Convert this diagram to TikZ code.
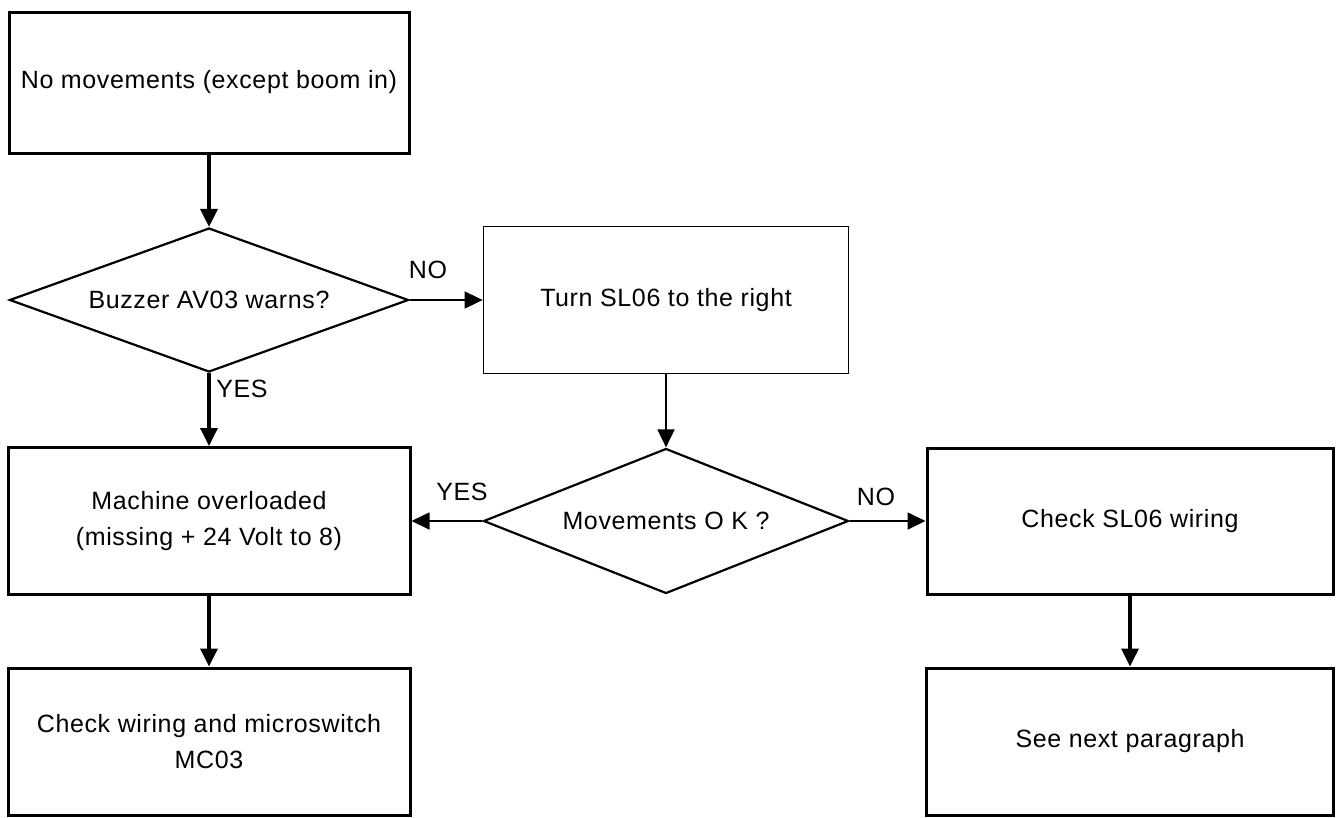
\documentclass[tikz,border=0pt]{standalone}
\usepackage{fontspec}
\setmainfont[LetterSpace=2.5]{Liberation Sans}
\usetikzlibrary{shapes.geometric,arrows.meta}
\begin{document}
\begin{tikzpicture}[x=1pt,y=-1pt,
  every node/.style={font=\fontsize{25}{36}\selectfont, align=center},
  stepbox/.style={draw, line width=3pt, rectangle, inner sep=0pt},
  decision/.style={draw, line width=2.2pt, diamond, inner sep=0pt, aspect=2.5},
  label/.style={inner sep=0pt},
  heavy/.style={line width=3.5pt, -{Triangle[length=18pt,width=17pt]}},
  light/.style={line width=1.8pt, -{Triangle[length=18pt,width=17pt]}}
]
\useasboundingbox (0,0) rectangle (1340,817);

% boxes and decisions
\node[stepbox, minimum width=400pt, minimum height=141pt] (start) at (209,82.5) {No movements (except boom in)};
\node[decision, minimum width=399pt, minimum height=144pt] (buzz) at (209,300) {Buzzer AV03 warns?};
\node[stepbox, line width=1.8pt, minimum width=365pt, minimum height=147pt] (turn) at (666,300) {Turn SL06 to the right};
\node[decision, minimum width=365pt, minimum height=145pt] (move) at (666,521) {Movements O K ?};
\node[stepbox, minimum width=402pt, minimum height=147pt] (over) at (209,521) {Machine overloaded\\(missing + 24 Volt to 8)};
\node[stepbox, minimum width=406pt, minimum height=146pt] (wire) at (1130,521) {Check SL06 wiring};
\node[stepbox, minimum width=402pt, minimum height=147pt] (micro) at (209,741.5) {Check wiring and microswitch\\MC03};
\node[stepbox, minimum width=407pt, minimum height=147pt] (next) at (1130,741.5) {See next paragraph};

% connectors
\draw[heavy] (start.south) -- (buzz.north);
\draw[light] (buzz.east) -- (turn.west);
\draw[heavy] (buzz.south) -- (over.north);
\draw[light] (turn.south) -- (move.north);
\draw[light] (move.west) -- (over.east);
\draw[light] (move.east) -- (wire.west);
\draw[heavy] (over.south) -- (micro.north);
\draw[heavy] (wire.south) -- (next.north);

% branch labels
\node[label] (noA) at (428,270) {NO};
\node[label] (yesA) at (242,389) {YES};
\node[label] (yesB) at (462,492) {YES};
\node[label] (noB) at (876,497) {NO};
\end{tikzpicture}
\end{document}
